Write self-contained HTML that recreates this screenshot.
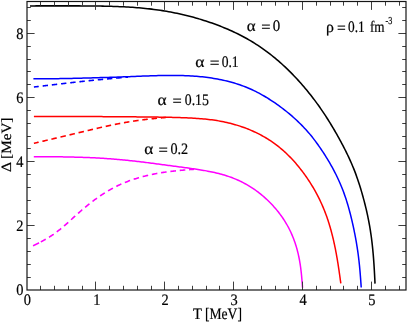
<!DOCTYPE html>
<html><head><meta charset="utf-8"><title>Gap vs temperature</title>
<style>
html,body{margin:0;padding:0;background:#fff;}
body{width:407px;height:322px;overflow:hidden;font-family:"Liberation Serif",serif;}
svg{display:block;}
</style></head><body>
<svg width="407" height="322" viewBox="0 0 407 322">
<rect width="407" height="322" fill="#fff"/>
<path d="M33.06,245.80 L33.74,245.47 L34.42,245.14 L35.10,244.80 L35.78,244.47 L36.46,244.13 L37.14,243.80 L37.82,243.46 L38.49,243.12 L39.17,242.77 L39.84,242.43 L40.51,242.08 L41.18,241.73 L41.85,241.37 L42.52,241.01 L43.18,240.65 L43.84,240.29 L44.50,239.92 L45.16,239.54 L45.82,239.17 L46.47,238.79 L47.12,238.40 L47.77,238.01 L48.41,237.62 L49.05,237.22 L49.69,236.82 L50.33,236.41 L50.96,235.99 L51.59,235.58 L52.22,235.15 L52.84,234.73 L53.47,234.30 L54.08,233.86 L54.70,233.42 L55.31,232.98 L55.92,232.53 L56.53,232.08 L57.14,231.62 L57.74,231.16 L58.34,230.70 L58.94,230.23 L59.53,229.76 L60.13,229.28 L60.72,228.81 L61.31,228.32 L61.89,227.84 L62.48,227.35 L63.06,226.86 L63.64,226.36 L64.22,225.87 L64.80,225.37 L65.37,224.87 L65.95,224.36 L66.52,223.86 L67.09,223.35 L67.66,222.84 L68.23,222.33 L68.80,221.82 L69.37,221.31 L69.94,220.79 L70.50,220.28 L71.07,219.76 L71.63,219.24 L72.20,218.73 L72.77,218.21 L73.33,217.69 L73.90,217.17 L74.46,216.66 L75.03,216.14 L75.60,215.62 L76.17,215.11 L76.73,214.59 L77.30,214.08 L77.87,213.56 L78.45,213.05 L79.02,212.54 L79.59,212.03 L80.17,211.52 L80.75,211.02 L81.32,210.51 L81.90,210.01 L82.49,209.51 L83.07,209.01 L83.65,208.52 L84.24,208.02 L84.83,207.53 L85.42,207.04 L86.01,206.55 L86.61,206.06 L87.20,205.58 L87.80,205.10 L88.40,204.62 L89.00,204.14 L89.60,203.66 L90.20,203.19 L90.81,202.72 L91.41,202.25 L92.02,201.78 L92.63,201.32 L93.25,200.85 L93.86,200.39 L94.48,199.94 L95.09,199.48 L95.71,199.03 L96.33,198.58 L96.96,198.14 L97.58,197.69 L98.21,197.25 L98.84,196.81 L99.47,196.38 L100.10,195.95 L100.74,195.52 L101.37,195.09 L102.01,194.67 L102.65,194.25 L103.30,193.83 L103.94,193.42 L104.59,193.01 L105.24,192.60 L105.89,192.20 L106.54,191.80 L107.19,191.41 L107.85,191.01 L108.51,190.63 L109.17,190.24 L109.83,189.86 L110.50,189.48 L111.16,189.11 L111.83,188.74 L112.50,188.37 L113.18,188.01 L113.85,187.65 L114.53,187.30 L115.21,186.95 L115.89,186.60 L116.57,186.26 L117.25,185.92 L117.94,185.59 L118.63,185.26 L119.32,184.94 L120.01,184.62 L120.71,184.30 L121.41,183.99 L122.11,183.69 L122.81,183.38 L123.51,183.09 L124.21,182.79 L124.92,182.50 L125.63,182.22 L126.34,181.94 L127.05,181.66 L127.77,181.39 L128.48,181.12 L129.20,180.86 L129.92,180.59 L130.64,180.34 L131.36,180.08 L132.08,179.84 L132.81,179.59 L133.53,179.35 L134.26,179.11 L134.99,178.88 L135.72,178.65 L136.45,178.42 L137.18,178.20 L137.91,177.98 L138.65,177.76 L139.38,177.55 L140.12,177.34 L140.86,177.13 L141.60,176.93 L142.34,176.73 L143.08,176.53 L143.82,176.34 L144.56,176.15 L145.31,175.97 L146.05,175.78 L146.80,175.60 L147.55,175.43 L148.29,175.25 L149.04,175.08 L149.79,174.91 L150.54,174.75 L151.29,174.59 L152.04,174.43 L152.79,174.28 L153.55,174.12 L154.30,173.97 L155.05,173.83 L155.81,173.68 L156.56,173.54 L157.32,173.41 L158.08,173.27 L158.83,173.14 L159.59,173.01 L160.35,172.88 L161.11,172.76 L161.86,172.64 L162.62,172.52 L163.38,172.40 L164.14,172.29 L164.90,172.18 L165.66,172.07 L166.43,171.96 L167.19,171.86 L167.95,171.75 L168.71,171.65 L169.48,171.56 L170.24,171.46 L171.00,171.37 L171.77,171.28 L172.53,171.19 L173.29,171.10 L174.06,171.01 L174.82,170.93 L175.59,170.85 L176.35,170.77 L177.12,170.69 L177.89,170.61 L178.65,170.54 L179.42,170.47 L180.18,170.39 L180.95,170.32 L181.72,170.25 L182.48,170.19 L183.25,170.12 L184.02,170.05 L184.79,169.99 L185.55,169.93 L186.32,169.86 L187.09,169.80 L187.85,169.74 L188.62,169.68 L189.39,169.62 L190.16,169.56 L190.93,169.51 L191.69,169.45 L192.46,169.39 L193.23,169.33 L194.00,169.27" stroke="#ff00ff" stroke-width="1.6" fill="none" stroke-linejoin="round" stroke-dasharray="6.7,2.0,5.6,3.8,5.6,3.8,5.6,3.8,5.6,3.8,5.6,3.8,5.6,3.8,5.6,3.8,5.6,3.8,5.6,3.8,5.6,3.8,5.6,3.8,5.6,3.8,5.6,3.8,5.6,3.8,5.6,3.8,5.6,3.8,5.6,3.8,5.6,3.8,5.6,3.8,5.6,3.8,5.6,3.8,5.6,3.8,5.6,3.8,5.6,3.8" stroke-dashoffset="0"/>
<path d="M33.90,143.30 L34.45,143.17 L35.00,143.04 L35.55,142.91 L36.10,142.78 L36.65,142.66 L37.19,142.53 L37.74,142.40 L38.29,142.27 L38.84,142.14 L39.39,142.01 L39.94,141.88 L40.49,141.75 L41.04,141.62 L41.59,141.49 L42.14,141.36 L42.69,141.24 L43.23,141.11 L43.78,140.98 L44.33,140.85 L44.88,140.72 L45.43,140.59 L45.98,140.46 L46.53,140.33 L47.08,140.20 L47.63,140.07 L48.18,139.94 L48.72,139.81 L49.27,139.68 L49.82,139.56 L50.37,139.43 L50.92,139.30 L51.47,139.17 L52.02,139.04 L52.57,138.91 L53.12,138.78 L53.67,138.65 L54.22,138.52 L54.76,138.39 L55.31,138.26 L55.86,138.13 L56.41,138.00 L56.96,137.87 L57.51,137.74 L58.06,137.61 L58.61,137.48 L59.16,137.35 L59.70,137.22 L60.25,137.09 L60.80,136.96 L61.35,136.83 L61.90,136.70 L62.45,136.57 L63.00,136.44 L63.55,136.31 L64.10,136.18 L64.65,136.05 L65.19,135.92 L65.74,135.79 L66.29,135.66 L66.84,135.53 L67.39,135.40 L67.94,135.27 L68.49,135.14 L69.04,135.01 L69.58,134.88 L70.13,134.75 L70.68,134.62 L71.23,134.48 L71.78,134.35 L72.33,134.22 L72.88,134.09 L73.43,133.96 L73.97,133.83 L74.52,133.70 L75.07,133.57 L75.62,133.44 L76.17,133.30 L76.72,133.17 L77.27,133.04 L77.82,132.91 L78.36,132.78 L78.91,132.65 L79.46,132.52 L80.01,132.39 L80.56,132.25 L81.11,132.12 L81.66,131.99 L82.21,131.86 L82.75,131.73 L83.30,131.60 L83.85,131.47 L84.40,131.34 L84.95,131.21 L85.50,131.07 L86.05,130.94 L86.60,130.81 L87.14,130.68 L87.69,130.55 L88.24,130.42 L88.79,130.29 L89.34,130.16 L89.89,130.03 L90.44,129.90 L90.99,129.77 L91.53,129.64 L92.08,129.51 L92.63,129.38 L93.18,129.25 L93.73,129.12 L94.28,128.99 L94.83,128.86 L95.38,128.73 L95.93,128.60 L96.48,128.48 L97.03,128.35 L97.58,128.22 L98.13,128.09 L98.68,127.97 L99.23,127.84 L99.77,127.71 L100.32,127.59 L100.87,127.46 L101.42,127.34 L101.97,127.21 L102.52,127.09 L103.08,126.96 L103.63,126.84 L104.18,126.72 L104.73,126.59 L105.28,126.47 L105.83,126.35 L106.38,126.23 L106.93,126.11 L107.48,125.99 L108.03,125.87 L108.58,125.75 L109.13,125.63 L109.69,125.51 L110.24,125.40 L110.79,125.28 L111.34,125.17 L111.89,125.05 L112.44,124.94 L113.00,124.82 L113.55,124.71 L114.10,124.60 L114.65,124.48 L115.21,124.37 L115.76,124.26 L116.31,124.15 L116.86,124.04 L117.42,123.93 L117.97,123.82 L118.52,123.72 L119.08,123.61 L119.63,123.51 L120.19,123.40 L120.74,123.30 L121.29,123.19 L121.85,123.09 L122.40,122.99 L122.96,122.89 L123.51,122.79 L124.07,122.69 L124.62,122.59 L125.17,122.49 L125.73,122.39 L126.29,122.30 L126.84,122.20 L127.40,122.11 L127.95,122.01 L128.51,121.92 L129.06,121.83 L129.62,121.74 L130.18,121.65 L130.73,121.56 L131.29,121.47 L131.85,121.38 L132.40,121.30 L132.96,121.21 L133.52,121.12 L134.07,121.04 L134.63,120.96 L135.19,120.87 L135.75,120.79 L136.30,120.71 L136.86,120.63 L137.42,120.55 L137.98,120.47 L138.54,120.39 L139.09,120.32 L139.65,120.24 L140.21,120.17 L140.77,120.09 L141.33,120.02 L141.89,119.94 L142.45,119.87 L143.00,119.80 L143.56,119.73 L144.12,119.66 L144.68,119.59 L145.24,119.52 L145.80,119.46 L146.36,119.39 L146.92,119.32 L147.48,119.26 L148.04,119.19 L148.60,119.13 L149.16,119.07 L149.72,119.01 L150.28,118.94 L150.84,118.88 L151.40,118.82 L151.96,118.76 L152.52,118.70 L153.08,118.65 L153.65,118.59 L154.21,118.53 L154.77,118.47 L155.33,118.42 L155.89,118.36 L156.45,118.31 L157.01,118.25 L157.57,118.20 L158.13,118.14 L158.70,118.09 L159.26,118.04 L159.82,117.99 L160.38,117.93 L160.94,117.88 L161.50,117.83 L162.07,117.78 L162.63,117.73 L163.19,117.68 L163.75,117.63 L164.31,117.58 L164.87,117.52 L165.44,117.47 L166.00,117.42" stroke="#ff0000" stroke-width="1.6" fill="none" stroke-linejoin="round" stroke-dasharray="5.5,3.8" stroke-dashoffset="0.6"/>
<path d="M33.90,87.00 L34.29,86.95 L34.69,86.91 L35.08,86.86 L35.47,86.82 L35.87,86.77 L36.26,86.72 L36.65,86.68 L37.05,86.63 L37.44,86.59 L37.83,86.54 L38.23,86.49 L38.62,86.45 L39.01,86.40 L39.41,86.36 L39.80,86.31 L40.19,86.26 L40.59,86.22 L40.98,86.17 L41.37,86.13 L41.77,86.08 L42.16,86.03 L42.55,85.99 L42.94,85.94 L43.34,85.90 L43.73,85.85 L44.12,85.80 L44.52,85.76 L44.91,85.71 L45.30,85.67 L45.70,85.62 L46.09,85.57 L46.48,85.53 L46.88,85.48 L47.27,85.44 L47.66,85.39 L48.06,85.34 L48.45,85.30 L48.84,85.25 L49.24,85.20 L49.63,85.16 L50.02,85.11 L50.42,85.07 L50.81,85.02 L51.20,84.97 L51.60,84.93 L51.99,84.88 L52.38,84.84 L52.78,84.79 L53.17,84.74 L53.56,84.70 L53.96,84.65 L54.35,84.60 L54.74,84.56 L55.14,84.51 L55.53,84.47 L55.92,84.42 L56.32,84.37 L56.71,84.33 L57.10,84.28 L57.49,84.23 L57.89,84.19 L58.28,84.14 L58.67,84.10 L59.07,84.05 L59.46,84.00 L59.85,83.96 L60.25,83.91 L60.64,83.87 L61.03,83.82 L61.43,83.77 L61.82,83.73 L62.21,83.68 L62.61,83.64 L63.00,83.59 L63.39,83.54 L63.79,83.50 L64.18,83.45 L64.57,83.41 L64.97,83.36 L65.36,83.32 L65.75,83.27 L66.15,83.22 L66.54,83.18 L66.93,83.13 L67.33,83.09 L67.72,83.04 L68.11,83.00 L68.51,82.95 L68.90,82.91 L69.29,82.86 L69.69,82.82 L70.08,82.77 L70.47,82.73 L70.87,82.68 L71.26,82.64 L71.65,82.59 L72.05,82.55 L72.44,82.50 L72.83,82.46 L73.23,82.42 L73.62,82.37 L74.01,82.33 L74.41,82.28 L74.80,82.24 L75.19,82.19 L75.59,82.15 L75.98,82.11 L76.37,82.06 L76.77,82.02 L77.16,81.98 L77.56,81.93 L77.95,81.89 L78.34,81.85 L78.74,81.80 L79.13,81.76 L79.52,81.72 L79.92,81.67 L80.31,81.63 L80.70,81.59 L81.10,81.55 L81.49,81.50 L81.88,81.46 L82.28,81.42 L82.67,81.38 L83.07,81.33 L83.46,81.29 L83.85,81.25 L84.25,81.21 L84.64,81.17 L85.03,81.13 L85.43,81.08 L85.82,81.04 L86.22,81.00 L86.61,80.96 L87.00,80.92 L87.40,80.88 L87.79,80.84 L88.18,80.80 L88.58,80.76 L88.97,80.71 L89.37,80.67 L89.76,80.63 L90.15,80.59 L90.55,80.55 L90.94,80.51 L91.33,80.47 L91.73,80.43 L92.12,80.39 L92.52,80.35 L92.91,80.31 L93.30,80.27 L93.70,80.23 L94.09,80.19 L94.49,80.15 L94.88,80.12 L95.27,80.08 L95.67,80.04 L96.06,80.00 L96.46,79.96 L96.85,79.92 L97.24,79.88 L97.64,79.84 L98.03,79.80 L98.43,79.77 L98.82,79.73 L99.21,79.69 L99.61,79.65 L100.00,79.61 L100.40,79.58 L100.79,79.54 L101.18,79.50 L101.58,79.46 L101.97,79.42 L102.37,79.39 L102.76,79.35 L103.16,79.31 L103.55,79.27 L103.94,79.24 L104.34,79.20 L104.73,79.16 L105.13,79.13 L105.52,79.09 L105.91,79.05 L106.31,79.02 L106.70,78.98 L107.10,78.94 L107.49,78.91 L107.89,78.87 L108.28,78.83 L108.67,78.80 L109.07,78.76 L109.46,78.73 L109.86,78.69 L110.25,78.65 L110.65,78.62 L111.04,78.58 L111.43,78.55 L111.83,78.51 L112.22,78.48 L112.62,78.44 L113.01,78.40 L113.41,78.37 L113.80,78.33 L114.19,78.30 L114.59,78.26 L114.98,78.23 L115.38,78.19 L115.77,78.16 L116.17,78.12 L116.56,78.09 L116.96,78.05 L117.35,78.02 L117.74,77.98 L118.14,77.95 L118.53,77.91 L118.93,77.88 L119.32,77.85 L119.72,77.81 L120.11,77.78 L120.50,77.74 L120.90,77.71 L121.29,77.67 L121.69,77.64 L122.08,77.61 L122.48,77.57 L122.87,77.54 L123.27,77.50 L123.66,77.47 L124.05,77.43 L124.45,77.40 L124.84,77.37 L125.24,77.33 L125.63,77.30 L126.03,77.26 L126.42,77.23 L126.82,77.20 L127.21,77.16 L127.61,77.13 L128.00,77.09" stroke="#0000ff" stroke-width="1.6" fill="none" stroke-linejoin="round" stroke-dasharray="4.9,3.9,5.4,3.85,5.4,3.85,5.4,3.85,5.4,3.85,5.4,3.85,5.4,3.85,5.4,3.85,5.4,3.85,5.4,3.85,5.4,3.85,5.4,3.85,5.4,3.85" stroke-dashoffset="0"/>
<path d="M33.80,156.69 L35.22,156.70 L36.64,156.70 L38.06,156.70 L39.48,156.71 L40.90,156.71 L42.32,156.71 L43.74,156.72 L45.16,156.72 L46.58,156.73 L48.00,156.74 L49.42,156.74 L50.84,156.75 L52.26,156.76 L53.68,156.77 L55.10,156.79 L56.53,156.80 L57.95,156.82 L59.37,156.83 L60.79,156.85 L62.21,156.87 L63.63,156.89 L65.05,156.92 L66.47,156.94 L67.89,156.97 L69.31,157.00 L70.73,157.03 L72.15,157.06 L73.57,157.09 L74.99,157.13 L76.41,157.17 L77.83,157.21 L79.25,157.25 L80.66,157.30 L82.08,157.34 L83.50,157.39 L84.92,157.44 L86.34,157.50 L87.76,157.55 L89.18,157.61 L90.60,157.67 L92.02,157.74 L93.44,157.80 L94.85,157.87 L96.27,157.95 L97.69,158.02 L99.11,158.10 L100.53,158.18 L101.94,158.26 L103.36,158.35 L104.78,158.44 L106.19,158.53 L107.61,158.63 L109.03,158.73 L110.44,158.83 L111.86,158.94 L113.27,159.05 L114.69,159.16 L116.10,159.28 L117.52,159.40 L118.93,159.52 L120.35,159.65 L121.76,159.78 L123.17,159.92 L124.59,160.06 L126.00,160.20 L127.41,160.34 L128.82,160.49 L130.23,160.64 L131.65,160.79 L133.06,160.95 L134.47,161.11 L135.88,161.27 L137.29,161.43 L138.70,161.60 L140.11,161.76 L141.52,161.93 L142.93,162.11 L144.34,162.28 L145.75,162.45 L147.16,162.63 L148.57,162.81 L149.98,162.99 L151.39,163.17 L152.80,163.35 L154.21,163.54 L155.61,163.72 L157.02,163.90 L158.43,164.09 L159.84,164.27 L161.25,164.46 L162.66,164.65 L164.07,164.83 L165.48,165.02 L166.89,165.21 L168.30,165.40 L169.71,165.59 L171.12,165.77 L172.53,165.96 L173.94,166.15 L175.35,166.34 L176.77,166.53 L178.18,166.72 L179.59,166.90 L181.00,167.09 L182.41,167.28 L183.83,167.47 L185.24,167.66 L186.65,167.85 L188.06,168.04 L189.47,168.23 L190.88,168.43 L192.29,168.63 L193.71,168.84 L195.11,169.04 L196.52,169.25 L197.93,169.47 L199.34,169.69 L200.75,169.92 L202.15,170.15 L203.55,170.39 L204.96,170.63 L206.36,170.88 L207.76,171.14 L209.15,171.41 L210.55,171.69 L211.94,171.98 L213.32,172.28 L214.71,172.59 L216.09,172.91 L217.47,173.24 L218.85,173.58 L220.22,173.94 L221.59,174.31 L222.95,174.69 L224.31,175.09 L225.66,175.50 L227.01,175.93 L228.35,176.38 L229.69,176.84 L231.02,177.32 L232.34,177.82 L233.66,178.33 L234.97,178.86 L236.27,179.40 L237.57,179.97 L238.85,180.55 L240.13,181.15 L241.40,181.77 L242.67,182.40 L243.92,183.05 L245.17,183.72 L246.40,184.41 L247.63,185.11 L248.84,185.83 L250.05,186.57 L251.25,187.32 L252.44,188.10 L253.61,188.88 L254.78,189.69 L255.93,190.51 L257.08,191.35 L258.21,192.20 L259.33,193.07 L260.44,193.95 L261.54,194.85 L262.63,195.76 L263.71,196.69 L264.78,197.63 L265.83,198.58 L266.88,199.54 L267.91,200.52 L268.93,201.51 L269.94,202.52 L270.93,203.53 L271.91,204.56 L272.88,205.60 L273.84,206.65 L274.78,207.71 L275.71,208.79 L276.63,209.87 L277.53,210.97 L278.41,212.08 L279.28,213.20 L280.14,214.33 L280.98,215.47 L281.80,216.63 L282.61,217.79 L283.40,218.97 L284.17,220.15 L284.93,221.35 L285.67,222.56 L286.39,223.77 L287.10,225.00 L287.79,226.24 L288.46,227.48 L289.11,228.73 L289.75,230.00 L290.36,231.27 L290.97,232.55 L291.55,233.84 L292.11,235.13 L292.66,236.43 L293.19,237.74 L293.70,239.06 L294.20,240.39 L294.68,241.72 L295.14,243.05 L295.58,244.40 L296.00,245.74 L296.41,247.10 L296.80,248.46 L297.18,249.82 L297.53,251.19 L297.88,252.57 L298.20,253.95 L298.51,255.33 L298.81,256.72 L299.09,258.11 L299.36,259.50 L299.61,260.90 L299.85,262.29 L300.08,263.70 L300.30,265.10 L300.50,266.51 L300.69,267.92 L300.87,269.33 L301.04,270.74 L301.20,272.16 L301.36,273.58 L301.50,274.99 L301.63,276.41 L301.76,277.83 L301.89,279.25 L302.00,280.68 L302.12,282.10 L302.23,283.52 L302.33,284.95 L302.44,286.37 L302.55,287.79" stroke="#ff00ff" stroke-width="1.5" fill="none" stroke-linejoin="round"/>
<path d="M33.90,116.60 L35.60,116.60 L37.29,116.60 L38.99,116.60 L40.68,116.60 L42.38,116.60 L44.07,116.60 L45.77,116.60 L47.46,116.60 L49.16,116.59 L50.85,116.59 L52.55,116.59 L54.25,116.59 L55.94,116.59 L57.64,116.59 L59.33,116.59 L61.03,116.59 L62.72,116.59 L64.42,116.59 L66.11,116.59 L67.81,116.59 L69.51,116.59 L71.20,116.59 L72.90,116.59 L74.59,116.59 L76.29,116.59 L77.98,116.59 L79.68,116.59 L81.37,116.59 L83.07,116.59 L84.76,116.59 L86.46,116.59 L88.16,116.59 L89.85,116.60 L91.55,116.60 L93.24,116.60 L94.94,116.60 L96.63,116.61 L98.33,116.61 L100.02,116.62 L101.72,116.62 L103.41,116.63 L105.11,116.64 L106.80,116.64 L108.50,116.65 L110.19,116.66 L111.89,116.67 L113.59,116.68 L115.28,116.69 L116.98,116.71 L118.67,116.72 L120.37,116.73 L122.06,116.74 L123.76,116.76 L125.45,116.77 L127.15,116.78 L128.84,116.80 L130.54,116.81 L132.23,116.83 L133.93,116.84 L135.63,116.86 L137.32,116.88 L139.02,116.89 L140.71,116.91 L142.41,116.93 L144.10,116.95 L145.80,116.97 L147.50,116.99 L149.19,117.01 L150.89,117.03 L152.58,117.05 L154.28,117.07 L155.98,117.10 L157.67,117.12 L159.37,117.15 L161.07,117.18 L162.76,117.20 L164.46,117.23 L166.16,117.26 L167.85,117.30 L169.55,117.33 L171.25,117.37 L172.95,117.40 L174.64,117.44 L176.34,117.49 L178.04,117.54 L179.73,117.59 L181.43,117.65 L183.13,117.71 L184.83,117.77 L186.52,117.84 L188.22,117.92 L189.91,118.00 L191.61,118.09 L193.31,118.18 L195.00,118.28 L196.70,118.40 L198.39,118.52 L200.08,118.64 L201.77,118.78 L203.46,118.93 L205.15,119.09 L206.84,119.26 L208.53,119.45 L210.21,119.65 L211.89,119.86 L213.57,120.09 L215.25,120.34 L216.93,120.60 L218.60,120.88 L220.27,121.17 L221.93,121.49 L223.59,121.82 L225.25,122.17 L226.91,122.54 L228.56,122.93 L230.20,123.33 L231.84,123.75 L233.48,124.20 L235.11,124.66 L236.73,125.14 L238.35,125.64 L239.97,126.15 L241.57,126.69 L243.17,127.25 L244.76,127.82 L246.35,128.42 L247.93,129.04 L249.50,129.67 L251.06,130.33 L252.61,131.00 L254.15,131.70 L255.69,132.41 L257.21,133.15 L258.72,133.90 L260.23,134.68 L261.72,135.47 L263.20,136.29 L264.67,137.13 L266.12,137.99 L267.56,138.87 L268.99,139.76 L270.41,140.69 L271.81,141.63 L273.20,142.59 L274.57,143.57 L275.93,144.58 L277.27,145.61 L278.60,146.65 L279.91,147.72 L281.20,148.80 L282.49,149.90 L283.75,151.02 L285.00,152.16 L286.24,153.32 L287.46,154.49 L288.67,155.68 L289.86,156.88 L291.04,158.10 L292.21,159.34 L293.35,160.59 L294.49,161.85 L295.61,163.12 L296.72,164.41 L297.81,165.71 L298.89,167.03 L299.95,168.35 L301.00,169.69 L302.04,171.03 L303.06,172.39 L304.07,173.76 L305.06,175.14 L306.04,176.52 L307.01,177.92 L307.96,179.33 L308.90,180.75 L309.83,182.17 L310.74,183.60 L311.64,185.05 L312.52,186.50 L313.39,187.96 L314.24,189.42 L315.08,190.90 L315.90,192.38 L316.70,193.88 L317.50,195.38 L318.27,196.88 L319.03,198.40 L319.77,199.92 L320.50,201.45 L321.21,202.99 L321.91,204.53 L322.59,206.09 L323.25,207.64 L323.90,209.21 L324.53,210.78 L325.15,212.36 L325.75,213.94 L326.33,215.53 L326.90,217.12 L327.46,218.72 L328.00,220.33 L328.52,221.94 L329.03,223.55 L329.53,225.17 L330.01,226.80 L330.48,228.43 L330.94,230.06 L331.38,231.69 L331.81,233.33 L332.23,234.97 L332.64,236.62 L333.04,238.27 L333.43,239.92 L333.80,241.57 L334.17,243.23 L334.53,244.88 L334.88,246.54 L335.22,248.21 L335.55,249.87 L335.87,251.54 L336.18,253.20 L336.48,254.87 L336.78,256.54 L337.07,258.22 L337.36,259.89 L337.63,261.56 L337.90,263.24 L338.17,264.91 L338.43,266.59 L338.68,268.27 L338.93,269.95 L339.18,271.63 L339.42,273.31 L339.66,274.99 L339.89,276.67 L340.13,278.35 L340.36,280.03 L340.59,281.72 L340.82,283.40" stroke="#ff0000" stroke-width="1.5" fill="none" stroke-linejoin="round"/>
<path d="M33.40,78.71 L35.32,78.72 L37.24,78.72 L39.16,78.73 L41.08,78.73 L43.00,78.74 L44.92,78.74 L46.84,78.73 L48.76,78.73 L50.68,78.72 L52.60,78.71 L54.52,78.69 L56.43,78.67 L58.35,78.65 L60.27,78.62 L62.19,78.59 L64.11,78.56 L66.03,78.52 L67.95,78.48 L69.87,78.44 L71.79,78.39 L73.71,78.35 L75.63,78.30 L77.55,78.25 L79.47,78.20 L81.38,78.15 L83.30,78.10 L85.22,78.05 L87.14,77.99 L89.06,77.94 L90.98,77.89 L92.90,77.83 L94.82,77.78 L96.74,77.73 L98.66,77.67 L100.57,77.62 L102.49,77.56 L104.41,77.50 L106.33,77.45 L108.25,77.39 L110.17,77.33 L112.09,77.27 L114.01,77.20 L115.93,77.14 L117.84,77.07 L119.76,77.01 L121.68,76.94 L123.60,76.87 L125.52,76.80 L127.44,76.72 L129.36,76.65 L131.28,76.57 L133.19,76.50 L135.11,76.42 L137.03,76.34 L138.95,76.27 L140.87,76.19 L142.79,76.12 L144.71,76.04 L146.63,75.97 L148.55,75.90 L150.47,75.83 L152.39,75.77 L154.31,75.71 L156.23,75.65 L158.15,75.60 L160.07,75.55 L161.99,75.51 L163.91,75.48 L165.83,75.45 L167.75,75.43 L169.67,75.41 L171.60,75.41 L173.52,75.41 L175.44,75.42 L177.36,75.44 L179.28,75.48 L181.20,75.52 L183.12,75.57 L185.05,75.64 L186.97,75.72 L188.89,75.81 L190.81,75.91 L192.72,76.03 L194.64,76.16 L196.56,76.31 L198.47,76.47 L200.39,76.65 L202.30,76.85 L204.21,77.07 L206.12,77.30 L208.02,77.55 L209.92,77.82 L211.82,78.10 L213.72,78.41 L215.61,78.73 L217.50,79.07 L219.39,79.43 L221.27,79.82 L223.15,80.22 L225.02,80.64 L226.89,81.08 L228.75,81.54 L230.60,82.03 L232.45,82.54 L234.29,83.07 L236.12,83.63 L237.94,84.21 L239.76,84.81 L241.56,85.45 L243.36,86.10 L245.14,86.79 L246.92,87.50 L248.68,88.24 L250.43,89.00 L252.17,89.79 L253.90,90.61 L255.62,91.45 L257.33,92.32 L259.03,93.20 L260.71,94.12 L262.39,95.05 L264.05,96.01 L265.70,96.98 L267.35,97.98 L268.98,98.99 L270.60,100.03 L272.21,101.08 L273.80,102.15 L275.39,103.23 L276.97,104.33 L278.53,105.45 L280.09,106.59 L281.63,107.73 L283.16,108.90 L284.68,110.08 L286.19,111.27 L287.68,112.48 L289.16,113.70 L290.63,114.94 L292.09,116.19 L293.53,117.46 L294.96,118.74 L296.38,120.04 L297.77,121.35 L299.16,122.68 L300.52,124.02 L301.87,125.38 L303.21,126.76 L304.52,128.15 L305.82,129.56 L307.10,130.98 L308.36,132.42 L309.61,133.88 L310.83,135.35 L312.04,136.84 L313.22,138.34 L314.39,139.86 L315.55,141.39 L316.69,142.93 L317.81,144.49 L318.92,146.06 L320.01,147.63 L321.09,149.22 L322.16,150.82 L323.22,152.42 L324.27,154.03 L325.30,155.65 L326.32,157.28 L327.32,158.92 L328.32,160.57 L329.30,162.22 L330.26,163.88 L331.21,165.55 L332.15,167.23 L333.06,168.91 L333.97,170.61 L334.85,172.31 L335.72,174.02 L336.58,175.74 L337.41,177.47 L338.22,179.20 L339.02,180.95 L339.80,182.70 L340.55,184.46 L341.29,186.23 L342.01,188.00 L342.71,189.79 L343.39,191.58 L344.06,193.37 L344.70,195.18 L345.32,196.99 L345.93,198.81 L346.52,200.64 L347.09,202.47 L347.64,204.30 L348.19,206.14 L348.71,207.99 L349.22,209.84 L349.72,211.70 L350.21,213.55 L350.68,215.41 L351.14,217.28 L351.59,219.15 L352.03,221.02 L352.46,222.89 L352.88,224.77 L353.30,226.64 L353.70,228.52 L354.09,230.40 L354.47,232.29 L354.85,234.17 L355.21,236.06 L355.56,237.94 L355.91,239.83 L356.24,241.72 L356.56,243.62 L356.87,245.51 L357.17,247.41 L357.46,249.30 L357.74,251.20 L358.01,253.10 L358.26,255.01 L358.50,256.91 L358.74,258.81 L358.96,260.72 L359.17,262.63 L359.37,264.53 L359.56,266.44 L359.74,268.35 L359.92,270.27 L360.08,272.18 L360.24,274.09 L360.39,276.01 L360.54,277.92 L360.68,279.84 L360.82,281.75 L360.95,283.67 L361.09,285.58 L361.22,287.50" stroke="#0000ff" stroke-width="1.5" fill="none" stroke-linejoin="round"/>
<path d="M30.00,5.90 L32.14,5.90 L34.27,5.90 L36.41,5.89 L38.55,5.89 L40.69,5.89 L42.82,5.89 L44.96,5.88 L47.10,5.88 L49.23,5.88 L51.37,5.88 L53.51,5.88 L55.65,5.87 L57.78,5.87 L59.92,5.87 L62.06,5.87 L64.20,5.87 L66.33,5.87 L68.47,5.87 L70.61,5.87 L72.74,5.88 L74.88,5.88 L77.02,5.89 L79.16,5.89 L81.29,5.90 L83.43,5.91 L85.57,5.92 L87.71,5.94 L89.84,5.96 L91.98,5.98 L94.12,6.00 L96.26,6.03 L98.39,6.06 L100.53,6.09 L102.67,6.13 L104.80,6.18 L106.94,6.23 L109.08,6.28 L111.21,6.34 L113.35,6.41 L115.49,6.48 L117.62,6.56 L119.76,6.65 L121.90,6.75 L124.03,6.85 L126.16,6.96 L128.30,7.08 L130.43,7.21 L132.57,7.35 L134.70,7.51 L136.83,7.67 L138.96,7.84 L141.09,8.02 L143.22,8.22 L145.34,8.43 L147.47,8.65 L149.59,8.89 L151.71,9.14 L153.83,9.40 L155.95,9.68 L158.07,9.98 L160.18,10.29 L162.29,10.61 L164.40,10.95 L166.51,11.31 L168.61,11.68 L170.72,12.07 L172.82,12.47 L174.91,12.89 L177.00,13.33 L179.09,13.78 L181.18,14.24 L183.26,14.72 L185.34,15.22 L187.42,15.73 L189.49,16.26 L191.56,16.80 L193.63,17.36 L195.69,17.94 L197.74,18.53 L199.79,19.13 L201.84,19.75 L203.88,20.39 L205.92,21.04 L207.95,21.71 L209.98,22.40 L212.00,23.10 L214.02,23.82 L216.02,24.55 L218.03,25.30 L220.02,26.07 L222.01,26.86 L223.99,27.66 L225.97,28.48 L227.93,29.32 L229.89,30.18 L231.84,31.06 L233.78,31.95 L235.71,32.87 L237.63,33.80 L239.54,34.76 L241.44,35.73 L243.33,36.73 L245.20,37.75 L247.07,38.79 L248.92,39.85 L250.76,40.93 L252.59,42.03 L254.40,43.16 L256.21,44.30 L257.99,45.47 L259.77,46.65 L261.53,47.86 L263.28,49.08 L265.02,50.33 L266.74,51.59 L268.45,52.87 L270.14,54.17 L271.82,55.49 L273.49,56.83 L275.14,58.18 L276.78,59.55 L278.40,60.94 L280.01,62.35 L281.61,63.77 L283.19,65.21 L284.76,66.66 L286.32,68.13 L287.86,69.61 L289.38,71.11 L290.90,72.62 L292.39,74.14 L293.88,75.68 L295.35,77.23 L296.81,78.80 L298.26,80.37 L299.69,81.96 L301.11,83.56 L302.52,85.17 L303.91,86.79 L305.29,88.42 L306.66,90.07 L308.02,91.72 L309.36,93.39 L310.69,95.06 L312.01,96.74 L313.31,98.44 L314.60,100.15 L315.87,101.86 L317.14,103.59 L318.39,105.32 L319.62,107.06 L320.85,108.82 L322.06,110.58 L323.26,112.35 L324.44,114.13 L325.62,115.92 L326.78,117.71 L327.93,119.52 L329.06,121.33 L330.19,123.15 L331.30,124.98 L332.41,126.81 L333.50,128.65 L334.58,130.50 L335.65,132.35 L336.71,134.21 L337.76,136.07 L338.80,137.94 L339.83,139.82 L340.85,141.70 L341.86,143.58 L342.85,145.47 L343.84,147.37 L344.81,149.27 L345.77,151.18 L346.72,153.10 L347.65,155.02 L348.57,156.95 L349.47,158.88 L350.35,160.82 L351.22,162.77 L352.07,164.73 L352.90,166.69 L353.70,168.66 L354.49,170.64 L355.26,172.63 L356.00,174.63 L356.72,176.64 L357.43,178.65 L358.11,180.67 L358.78,182.69 L359.44,184.73 L360.08,186.76 L360.70,188.80 L361.31,190.85 L361.91,192.90 L362.50,194.96 L363.07,197.02 L363.63,199.08 L364.18,201.14 L364.71,203.21 L365.23,205.29 L365.74,207.36 L366.24,209.44 L366.72,211.52 L367.18,213.61 L367.63,215.70 L368.07,217.79 L368.49,219.88 L368.89,221.98 L369.28,224.08 L369.66,226.18 L370.02,228.29 L370.36,230.40 L370.68,232.51 L370.99,234.62 L371.29,236.74 L371.57,238.85 L371.83,240.97 L372.08,243.09 L372.32,245.22 L372.55,247.34 L372.76,249.47 L372.96,251.59 L373.16,253.72 L373.34,255.85 L373.51,257.98 L373.67,260.11 L373.82,262.25 L373.97,264.38 L374.10,266.51 L374.23,268.65 L374.36,270.78 L374.48,272.92 L374.59,275.05 L374.70,277.19 L374.81,279.33 L374.91,281.46 L375.01,283.60" stroke="#000" stroke-width="1.55" fill="none" stroke-linejoin="round"/>
<path d="M40.50,290.00v-4.2 M40.50,1.50v4.2 M54.50,290.00v-4.2 M54.50,1.50v4.2 M68.50,290.00v-4.2 M68.50,1.50v4.2 M82.50,290.00v-4.2 M82.50,1.50v4.2 M95.50,290.00v-8.4 M95.50,1.50v8.4 M109.50,290.00v-4.2 M109.50,1.50v4.2 M123.50,290.00v-4.2 M123.50,1.50v4.2 M137.50,290.00v-4.2 M137.50,1.50v4.2 M151.50,290.00v-4.2 M151.50,1.50v4.2 M164.50,290.00v-8.4 M164.50,1.50v8.4 M178.50,290.00v-4.2 M178.50,1.50v4.2 M192.50,290.00v-4.2 M192.50,1.50v4.2 M206.50,290.00v-4.2 M206.50,1.50v4.2 M219.50,290.00v-4.2 M219.50,1.50v4.2 M233.50,290.00v-8.4 M233.50,1.50v8.4 M247.50,290.00v-4.2 M247.50,1.50v4.2 M261.50,290.00v-4.2 M261.50,1.50v4.2 M275.50,290.00v-4.2 M275.50,1.50v4.2 M288.50,290.00v-4.2 M288.50,1.50v4.2 M302.50,290.00v-8.4 M302.50,1.50v8.4 M316.50,290.00v-4.2 M316.50,1.50v4.2 M330.50,290.00v-4.2 M330.50,1.50v4.2 M343.50,290.00v-4.2 M343.50,1.50v4.2 M357.50,290.00v-4.2 M357.50,1.50v4.2 M371.50,290.00v-8.4 M371.50,1.50v8.4 M385.50,290.00v-4.2 M385.50,1.50v4.2 M399.50,290.00v-4.2 M399.50,1.50v4.2 M27.00,277.50h3.8 M406.00,277.50h-3.8 M27.00,264.50h3.8 M406.00,264.50h-3.8 M27.00,251.50h3.8 M406.00,251.50h-3.8 M27.00,238.50h3.8 M406.00,238.50h-3.8 M27.00,225.50h7.6 M406.00,225.50h-7.6 M27.00,213.50h3.8 M406.00,213.50h-3.8 M27.00,200.50h3.8 M406.00,200.50h-3.8 M27.00,187.50h3.8 M406.00,187.50h-3.8 M27.00,174.50h3.8 M406.00,174.50h-3.8 M27.00,161.50h7.6 M406.00,161.50h-7.6 M27.00,148.50h3.8 M406.00,148.50h-3.8 M27.00,136.50h3.8 M406.00,136.50h-3.8 M27.00,123.50h3.8 M406.00,123.50h-3.8 M27.00,110.50h3.8 M406.00,110.50h-3.8 M27.00,97.50h7.6 M406.00,97.50h-7.6 M27.00,84.50h3.8 M406.00,84.50h-3.8 M27.00,71.50h3.8 M406.00,71.50h-3.8 M27.00,59.50h3.8 M406.00,59.50h-3.8 M27.00,46.50h3.8 M406.00,46.50h-3.8 M27.00,33.50h7.6 M406.00,33.50h-7.6 M27.00,20.50h3.8 M406.00,20.50h-3.8 M27.00,7.50h3.8 M406.00,7.50h-3.8" stroke="#333" stroke-width="0.95" fill="none"/>
<rect x="27.0" y="1.5" width="379.00" height="288.50" fill="none" stroke="#161616" stroke-width="1.2"/>
<g font-family="Liberation Serif, serif" font-size="16" fill="#000" stroke="#000" stroke-width="0.22" opacity="0.999" text-rendering="geometricPrecision">
<text transform="translate(27.4,305.1) scale(0.9,1)" text-anchor="middle">0</text>
<text transform="translate(96.9,305.1) scale(0.9,1)" text-anchor="middle">1</text>
<text transform="translate(165.2,305.1) scale(0.9,1)" text-anchor="middle">2</text>
<text transform="translate(234.1,305.1) scale(0.9,1)" text-anchor="middle">3</text>
<text transform="translate(303.0,305.1) scale(0.9,1)" text-anchor="middle">4</text>
<text transform="translate(371.9,305.1) scale(0.9,1)" text-anchor="middle">5</text>
<text transform="translate(23.4,295.0) scale(0.9,1)" text-anchor="end">0</text>
<text transform="translate(23.4,230.9) scale(0.9,1)" text-anchor="end">2</text>
<text transform="translate(23.4,166.8) scale(0.9,1)" text-anchor="end">4</text>
<text transform="translate(23.4,102.6) scale(0.9,1)" text-anchor="end">6</text>
<text transform="translate(23.4,38.5) scale(0.9,1)" text-anchor="end">8</text>
<text transform="translate(192.97,319.0) scale(0.908,1)">T</text>
<text transform="translate(204.94,319.0) scale(0.849,1)">[MeV]</text>
<text transform="translate(10.8,171.91) rotate(-90) scale(0.978,0.89)">Δ</text>
<text transform="translate(10.8,158.89) rotate(-90) scale(0.948,0.89)">[MeV]</text>
<text transform="translate(246.74,30.8) scale(1.058,1)">α</text>
<text transform="translate(261.23,31.7) scale(1.027,1)">=</text>
<text transform="translate(272.82,30.8) scale(0.933,1)">0</text>
<text transform="translate(195.21,66.7) scale(1.098,1)">α</text>
<text transform="translate(209.69,67.6) scale(1.080,1)">=</text>
<text transform="translate(221.67,66.7) scale(0.849,1)">0.1</text>
<text transform="translate(157.42,104.9) scale(1.085,1)">α</text>
<text transform="translate(172.43,105.8) scale(1.027,1)">=</text>
<text transform="translate(184.76,104.9) scale(0.860,1)">0.15</text>
<text transform="translate(144.22,153.9) scale(1.085,1)">α</text>
<text transform="translate(158.62,154.8) scale(1.040,1)">=</text>
<text transform="translate(170.45,153.9) scale(0.886,1)">0.2</text>
<text transform="translate(325.91,32.4) scale(0.988,1)">ρ</text>
<text transform="translate(336.97,33.4) scale(0.973,1)">=</text>
<text transform="translate(347.98,32.4) scale(0.833,1)">0.1</text>
<text transform="translate(369.89,32.3) scale(0.824,1)">fm</text>
<text transform="translate(385.48,23.5) scale(0.772,1)" font-size="10.6">-3</text>
</g>
</svg>
</body></html>
